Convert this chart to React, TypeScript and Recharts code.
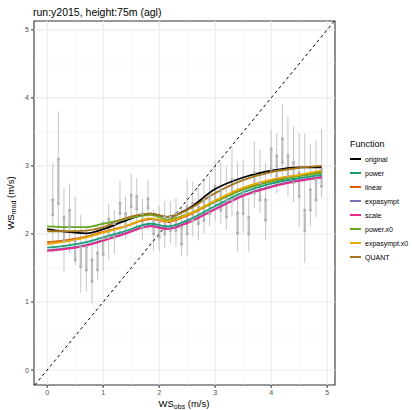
import React from "react";
import {
  ComposedChart,
  Line,
  Scatter,
  ErrorBar,
  XAxis,
  YAxis,
  ReferenceLine,
  ReferenceArea,
} from "recharts";

const FONT = "'Liberation Sans', Arial, Helvetica, sans-serif";

// binned observations: x bin centre, whisker ends and inner (quartile) range
const binX = [
  0.1, 0.2, 0.3, 0.4, 0.5, 0.6, 0.7, 0.8, 0.9, 1.0, 1.1, 1.2, 1.3, 1.4, 1.5, 1.6, 1.7,
  1.8, 1.9, 2.0, 2.1, 2.2, 2.3, 2.4, 2.5, 2.6, 2.7, 2.8, 2.9, 3.0, 3.1, 3.2, 3.3, 3.4,
  3.5, 3.6, 3.7, 3.8, 3.9, 4.0, 4.1, 4.2, 4.3, 4.4, 4.5, 4.6, 4.7, 4.8, 4.9,
];
const binLow = [
  1.72, 1.9, 1.45, 1.72, 1.54, 1.13, 1.15, 0.98, 1.32, 1.45, 1.62, 1.7, 1.98, 1.93, 2.11,
  2.03, 1.9, 2.06, 1.75, 1.74, 1.79, 1.86, 1.81, 1.67, 1.67, 1.96, 1.9, 2.01, 2.11, 2.2,
  2.15, 2.06, 2.25, 1.74, 2.01, 1.74, 2.38, 2.31, 1.91, 2.84, 2.6, 2.79, 2.55, 2.47, 2.11,
  1.57, 2.11, 2.25, 2.53,
];
const binQ1 = [
  2.28, 2.45, 1.9, 2.1, 1.62, 1.52, 1.47, 1.3, 1.47, 1.7, 1.95, 1.95, 2.3, 2.1, 2.4, 2.37,
  2.1, 2.38, 2.0, 1.95, 2.0, 2.05, 2.05, 1.85, 2.0, 2.2, 2.15, 2.2, 2.3, 2.45, 2.35, 2.25,
  2.5, 2.01, 2.3, 2.0, 2.6, 2.5, 2.2, 2.95, 2.85, 3.05, 2.85, 2.75, 2.55, 2.05, 2.35, 2.5,
  2.7,
];
const binQ3 = [
  2.5, 3.1, 2.25, 2.35, 1.9, 1.81, 1.81, 1.62, 1.72, 1.93, 2.22, 2.15, 2.45, 2.3, 2.57,
  2.55, 2.3, 2.52, 2.2, 2.18, 2.25, 2.25, 2.3, 2.1, 2.4, 2.45, 2.4, 2.5, 2.55, 2.7, 2.65,
  2.5, 2.8, 2.31, 2.6, 2.25, 2.9, 2.75, 2.5, 3.25, 3.15, 3.4, 3.15, 3.05, 2.9, 2.35, 2.65,
  2.8, 2.95,
];
const binHigh = [
  3.04, 3.8, 2.67, 2.74, 2.55, 2.28, 2.1, 2.0, 2.15, 2.2, 2.45, 2.35, 2.78, 2.55, 2.88,
  2.82, 2.52, 2.8, 2.36, 2.42, 2.48, 2.48, 2.53, 2.39, 2.8, 2.77, 2.73, 2.8, 2.85, 3.08,
  3.06, 2.99, 3.28, 3.06, 3.09, 2.53, 3.36, 3.24, 3.04, 3.53, 3.48, 3.9, 3.72, 3.58, 3.48,
  3.48, 3.33, 3.38, 3.54,
];

// fitted transfer functions
const fitX = [0, 0.35, 0.7, 1.0, 1.35, 1.85, 2.15, 2.5, 3.0, 3.5, 4.0, 4.5, 4.9];
const original = [2.07, 2.03, 2.01, 2.07, 2.18, 2.3, 2.25, 2.36, 2.66, 2.83, 2.93, 2.98, 2.98];
const power = [1.8, 1.83, 1.88, 1.95, 2.03, 2.15, 2.11, 2.2, 2.41, 2.61, 2.74, 2.82, 2.87];
const linear = [1.88, 1.91, 1.96, 2.03, 2.1, 2.22, 2.18, 2.27, 2.48, 2.67, 2.79, 2.86, 2.92];
const expasympt = [1.76, 1.79, 1.84, 1.91, 2.0, 2.12, 2.08, 2.17, 2.37, 2.57, 2.7, 2.79, 2.84];
const scale = [1.75, 1.78, 1.83, 1.9, 1.99, 2.11, 2.07, 2.16, 2.36, 2.56, 2.69, 2.78, 2.83];
const powerX0 = [2.11, 2.1, 2.1, 2.15, 2.21, 2.28, 2.21, 2.29, 2.47, 2.65, 2.77, 2.85, 2.9];
const expasymptX0 = [1.85, 1.89, 1.95, 2.02, 2.1, 2.23, 2.19, 2.28, 2.49, 2.68, 2.8, 2.87, 2.93];
const quant = [2.04, 2.04, 2.05, 2.1, 2.22, 2.3, 2.25, 2.35, 2.6, 2.79, 2.91, 2.97, 3.0];

const series = [
  { key: "original", values: original, color: "#000000" },
  { key: "power", values: power, color: "#1B9E77" },
  { key: "linear", values: linear, color: "#D95F02" },
  { key: "expasympt", values: expasympt, color: "#7570B3" },
  { key: "scale", values: scale, color: "#E7298A" },
  { key: "power.x0", values: powerX0, color: "#66A61E" },
  { key: "expasympt.x0", values: expasymptX0, color: "#E6AB02" },
  { key: "QUANT", values: quant, color: "#A6761D" },
];

const majorTicks = [0, 1, 2, 3, 4, 5];
const minorTicks = [0.5, 1.5, 2.5, 3.5, 4.5];
const xDomain: [number, number] = [-0.235, 5.14];
const yDomain: [number, number] = [-0.22, 5.13];

const bins = binX.map((x, i) => ({
  x,
  lo: binLow[i],
  q1: binQ1[i],
  q3: binQ3[i],
  hi: binHigh[i],
}));

const fits = fitX.map((x, i) => {
  const row: Record<string, number> = { x };
  series.forEach((s) => (row[s.key] = s.values[i]));
  return row;
});

const NoMark = () => <g />;
const SquareMark = (props: any) => {
  const { cx, cy } = props;
  if (cx == null || cy == null) return <g />;
  return <rect x={cx - 1.3} y={cy - 1.3} width={2.6} height={2.6} fill="#B0B0B0" />;
};

const XTitle = () => (
  <text x={184} y={407} textAnchor="middle" fontSize={9.5} fill="#000" fontFamily={FONT}>
    WS
    <tspan fontSize={7} dy={2}>obs</tspan>
    <tspan dy={-2}> (m/s)</tspan>
  </text>
);

const YTitle = () => (
  <text
    x={0}
    y={0}
    transform="translate(14,203) rotate(-90)"
    textAnchor="middle"
    fontSize={9.5}
    fill="#000"
    fontFamily={FONT}
  >
    WS
    <tspan fontSize={7} dy={2}>mod</tspan>
    <tspan dy={-2}> (m/s)</tspan>
  </text>
);

export default function App() {
  return (
    <div style={{ position: "absolute", left: 0, top: 0, width: 412, height: 410, background: "#fff", fontFamily: FONT }}>
      <div style={{ position: "absolute", left: 33, top: 6, fontSize: 10.5, color: "#000" }}>
        run:y2015, height:75m (agl)
      </div>
      <ComposedChart width={412} height={410} margin={{ top: 21, right: 77, bottom: 0, left: 14 }}>
        {minorTicks.map((v) => (
          <ReferenceLine key={"mx" + v} x={v} stroke="#F2F2F2" strokeWidth={0.6} />
        ))}
        {minorTicks.map((v) => (
          <ReferenceLine key={"my" + v} y={v} stroke="#F2F2F2" strokeWidth={0.6} />
        ))}
        {majorTicks.map((v) => (
          <ReferenceLine key={"gx" + v} x={v} stroke="#EBEBEB" strokeWidth={1.1} />
        ))}
        {majorTicks.map((v) => (
          <ReferenceLine key={"gy" + v} y={v} stroke="#EBEBEB" strokeWidth={1.1} />
        ))}
        <XAxis
          type="number"
          dataKey="x"
          domain={xDomain}
          allowDataOverflow
          ticks={majorTicks}
          height={25}
          tickSize={3}
          axisLine={false}
          tickLine={{ stroke: "#333333" }}
          tick={{ fill: "#4D4D4D", fontSize: 7, fontFamily: FONT }}
          label={{ content: XTitle }}
        />
        <YAxis
          type="number"
          domain={yDomain}
          allowDataOverflow
          ticks={majorTicks}
          width={20}
          tickSize={3}
          axisLine={false}
          tickLine={{ stroke: "#333333" }}
          tick={{ fill: "#4D4D4D", fontSize: 7, fontFamily: FONT }}
          label={{ content: YTitle }}
        />
        <Scatter data={bins} dataKey="lo" shape={NoMark} isAnimationActive={false}>
          <ErrorBar
            dataKey={(d: any) => [0, d.hi - d.lo]}
            direction="y"
            width={0}
            stroke="#C6C6C6"
            strokeWidth={1}
            isAnimationActive={false}
          />
        </Scatter>
        <Scatter data={bins} dataKey="q1" shape={SquareMark} isAnimationActive={false}>
          <ErrorBar
            dataKey={(d: any) => [0, d.q3 - d.q1]}
            direction="y"
            width={0}
            stroke="#BDBDBD"
            strokeWidth={2.2}
            isAnimationActive={false}
          />
        </Scatter>
        <Scatter data={bins} dataKey="q3" shape={SquareMark} isAnimationActive={false} />
        <ReferenceLine
          segment={[
            { x: -0.22, y: -0.22 },
            { x: 5.13, y: 5.13 },
          ]}
          stroke="#000"
          strokeWidth={1}
          strokeDasharray="3 3"
        />
        {series.map((s) => (
          <Line
            key={s.key}
            data={fits}
            dataKey={s.key}
            type="monotone"
            stroke={s.color}
            strokeWidth={1.8}
            dot={false}
            isAnimationActive={false}
          />
        ))}
        <ReferenceArea
          x1={xDomain[0]}
          x2={xDomain[1]}
          y1={yDomain[0]}
          y2={yDomain[1]}
          fill="none"
          stroke="#333333"
          strokeWidth={1.1}
        />
      </ComposedChart>
      <div style={{ position: "absolute", left: 350, top: 139, fontSize: 9, color: "#000" }}>Function</div>
      {series.map((s) => (
        <div
          key={s.key}
          style={{ position: "absolute", left: 350, top: 154 + series.indexOf(s) * 14.05, height: 10, display: "flex", alignItems: "center" }}
        >
          <div style={{ width: 11, height: 2, background: s.color }} />
          <span style={{ marginLeft: 4, fontSize: 7, color: "#000" }}>{s.key}</span>
        </div>
      ))}
    </div>
  );
}
